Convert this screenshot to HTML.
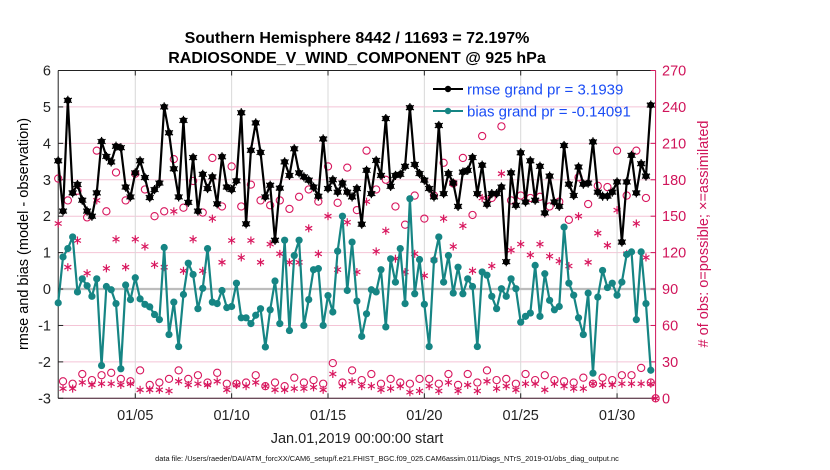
<!DOCTYPE html>
<html><head><meta charset="utf-8">
<style>
html,body{margin:0;padding:0;background:#fff;}
svg{display:block;font-family:"Liberation Sans",Arial,sans-serif;}
</style></head>
<body>
<svg id="chart" width="830" height="470" viewBox="0 0 830 470" xmlns="http://www.w3.org/2000/svg">
  <rect x="0" y="0" width="830" height="470" fill="#fff"/>
  <g id="grid"></g>
  <g id="axes"></g>
  <g id="marks"></g>
  <text x="357" y="43" text-anchor="middle" font-weight="bold" font-size="16">Southern Hemisphere 8442 / 11693 = 72.197%</text>
  <text x="357" y="63" text-anchor="middle" font-weight="bold" font-size="16">RADIOSONDE_V_WIND_COMPONENT @ 925 hPa</text>
  <text transform="translate(28,234) rotate(-90)" text-anchor="middle" font-size="14.5">rmse and bias (model - observation)</text>
  <text transform="translate(708,234) rotate(-90)" text-anchor="middle" font-size="14.5" fill="#d0145a"># of obs: o=possible; ×=assimilated</text>
  <text x="357" y="443" text-anchor="middle" font-size="14.5" fill="#222">Jan.01,2019 00:00:00 start</text>
  <text x="387" y="461" text-anchor="middle" font-size="7.4" fill="#111">data file: /Users/raeder/DAI/ATM_forcXX/CAM6_setup/f.e21.FHIST_BGC.f09_025.CAM6assim.011/Diags_NTrS_2019-01/obs_diag_output.nc</text>
  <g id="legend">
    <line x1="433" y1="89" x2="463" y2="89" stroke="#000" stroke-width="2"/>
    <circle cx="448" cy="89" r="3.2" fill="#000"/>
    <text x="467" y="94.5" font-size="15" fill="#1a4cf5">rmse grand pr = 3.1939</text>
    <line x1="433" y1="111" x2="463" y2="111" stroke="#168584" stroke-width="2"/>
    <circle cx="448" cy="111" r="3.2" fill="#168584"/>
    <text x="467" y="116.5" font-size="15" fill="#1a4cf5">bias grand pr = -0.14091</text>
  </g>
</svg>
<script>
const rmseValues = [3.52,2.14,5.18,2.64,2.87,2.44,2.14,2.0,2.64,4.05,3.64,3.49,3.92,3.88,2.80,2.53,3.19,3.52,3.06,2.51,2.73,2.91,5.0,4.29,3.30,2.53,4.63,2.38,3.61,2.14,3.15,
2.76,3.08,2.34,3.63,2.80,2.73,2.97,4.84,1.79,3.81,4.56,3.75,2.53,2.85,1.34,2.77,3.49,3.12,3.85,3.19,3.08,2.99,2.80,2.55,4.12,2.76,3.00,2.66,2.91,2.66,2.53,
2.76,1.78,3.26,2.62,3.53,3.12,4.68,2.82,3.12,3.15,3.37,4.98,3.42,3.17,2.99,2.76,2.53,4.49,2.62,3.17,2.91,2.27,3.21,3.26,3.61,2.62,3.40,2.33,2.62,2.62,2.80,
0.75,3.19,2.30,3.74,2.39,3.52,2.44,3.37,2.09,3.10,2.39,2.27,3.94,2.88,2.57,3.35,2.88,2.91,4.04,2.66,2.55,2.55,2.66,2.94,1.29,2.94,3.67,2.64,3.44,3.10,5.05,null];
const biasValues = [-0.38,0.88,1.11,1.43,-0.08,0.28,0.09,-0.2,0.28,-2.10,0.07,-0.02,-0.40,-2.19,0.11,-0.29,0.31,-0.27,-0.42,-0.49,-0.70,-0.84,1.14,-1.25,-0.36,-1.58,-0.15,0.71,0.40,-0.54,0.02,
1.11,-0.36,-0.40,-0.04,-0.51,-0.48,0.16,-0.79,-0.79,-0.95,-0.72,-0.54,-1.59,-0.57,0.22,-0.95,1.34,-1.14,0.92,1.34,-1.0,-0.29,0.53,0.56,-1.0,-0.18,-0.63,1.04,2.0,-0.04,1.29,
-0.33,-1.30,-0.68,-0.02,-0.08,0.53,-1.04,0.83,0.19,1.11,-0.40,2.48,-0.13,0.81,-0.42,-1.58,0.79,1.43,0.19,0.92,-0.11,0.60,-0.13,0.28,0.07,-1.58,0.47,0.38,-0.20,-0.54,0.01,
-0.2,0.28,0.01,-0.91,-0.75,-0.66,0.65,-0.75,0.42,-0.31,-0.57,-0.48,1.70,0.16,-0.17,-0.79,-1.25,-0.11,-2.31,-0.22,0.51,0.04,0.16,-0.17,0.19,0.95,1.02,-0.84,1.02,-0.40,-2.23,null];
const possibleCounts = [181,14,163,12,171,20,149,15,204,19,154,21,186,16,163,14,185,23,172,11,150,13,154,16,197,23,157,16,179,19,153,
13,198,21,158,12,191,12,158,13,176,19,163,10,159,13,163,10,156,17,166,13,172,15,162,12,191,29,161,13,190,23,
155,15,204,20,172,12,180,16,158,13,143,12,167,16,148,16,167,12,194,20,177,11,198,20,151,13,216,23,165,15,224,
16,163,12,167,20,165,15,166,19,158,15,162,14,147,13,182,17,160,12,175,17,174,15,204,19,167,19,204,25,165,13,0];
const assimilatedCounts = [144,8,108,8,130,13,103,11,163,12,107,12,131,11,108,12,131,7,125,7,110,7,108,6,154,14,105,11,131,12,105,
11,148,14,112,7,130,11,116,10,130,13,112,10,127,7,119,7,112,8,112,8,140,9,119,7,150,20,106,10,145,14,
104,10,162,10,121,7,138,8,115,10,104,5,119,6,101,10,114,6,148,13,125,6,142,11,105,6,165,14,109,8,185,
10,122,7,127,12,118,12,127,7,117,12,113,10,109,8,150,8,112,12,136,11,126,11,155,12,119,12,144,12,116,12,0];
const xTickLabels = ["01/05","01/10","01/15","01/20","01/25","01/30"];
const xTickDays = [4,9,14,19,24,29];
const yLeftTicks = [-3,-2,-1,0,1,2,3,4,5,6];
const yRightTicks = [0,30,60,90,120,150,180,210,240,270];
const stepDays = 0.25;

const NS = "http://www.w3.org/2000/svg";
const PL = 58.2, PR = 655.6, PT = 70.5, PB = 398.3;
const xDay = d => PL + d * (PR - PL) / 31;
const yL = v => PB - (v + 3) * (PB - PT) / 9;
const yR = c => PB - c * (PB - PT) / 270;
function mk(tag, attrs, parent) {
  const el = document.createElementNS(NS, tag);
  for (const k in attrs) el.setAttribute(k, attrs[k]);
  parent.appendChild(el);
  return el;
}
const grid = document.getElementById('grid');
const axes = document.getElementById('axes');
const marks = document.getElementById('marks');

yRightTicks.forEach(c => {
  const l = mk('line', {x1: PL, x2: PR, y1: yR(c), y2: yR(c), stroke: '#f4c4d6', 'stroke-width': 1}, grid);
  
  
});
xTickDays.forEach(d => {
  const l = mk('line', {x1: xDay(d), x2: xDay(d), y1: PT, y2: PB, stroke: '#d8d8d8', 'stroke-width': 1}, grid);
  
  
});
const zl = mk('line', {x1: PL, x2: PR, y1: yL(0), y2: yL(0), stroke: '#bdbdbd', 'stroke-width': 2.2}, grid);



const frame = [
  ['top-axis-line', PL, PT, PR, PT, '#222'],
  ['left-axis-line', PL, PT, PL, PB, '#222'],
  ['bottom-axis-line', PL, PB, PR, PB, '#3a1a2a'],
  ['right-axis-line', PR, PT, PR, PB, '#d0145a']
];
frame.forEach(f => {
  const l = mk('line', {x1: f[1], y1: f[2], x2: f[3], y2: f[4], stroke: f[5], 'stroke-width': 1}, axes);
  
  
});
yLeftTicks.forEach(v => {
  const t = mk('text', {x: 51, y: yL(v) + 5, 'text-anchor': 'end', 'font-size': 14.5, fill: '#222'}, axes);
  t.textContent = String(v);
  
  
  mk('line', {x1: PL, x2: PL + 5, y1: yL(v), y2: yL(v), stroke: '#222'}, axes);
});
yRightTicks.forEach(c => {
  const t = mk('text', {x: 662, y: yR(c) + 5, 'font-size': 14.5, fill: '#d0145a'}, axes);
  t.textContent = String(c);
  
  
  mk('line', {x1: PR - 5, x2: PR, y1: yR(c), y2: yR(c), stroke: '#d0145a'}, axes);
});
xTickDays.forEach((d, i) => {
  const t = mk('text', {x: xDay(d), y: 420, 'text-anchor': 'middle', 'font-size': 14.5, fill: '#222'}, axes);
  t.textContent = xTickLabels[i];
  
  
  mk('line', {x1: xDay(d), x2: xDay(d), y1: PB - 5, y2: PB, stroke: '#222'}, axes);
  mk('line', {x1: xDay(d), x2: xDay(d), y1: PT, y2: PT + 5, stroke: '#222'}, axes);
});

function asterisk(cx, cy, r, color, parent) {
  const g = mk('g', {stroke: color, 'stroke-width': 1.2}, parent);
  for (let a = 0; a < 3; a++) {
    const ang = Math.PI / 2 + a * Math.PI / 3;
    mk('line', {x1: cx - r * Math.cos(ang), y1: cy - r * Math.sin(ang), x2: cx + r * Math.cos(ang), y2: cy + r * Math.sin(ang)}, g);
  }
  return g;
}
possibleCounts.forEach((c, i) => {
  const x = xDay(i * stepDays);
  const el = mk('circle', {cx: x, cy: yR(c), r: 3.6, fill: 'none', stroke: '#d8175e', 'stroke-width': 1.1}, marks);
  
  
});
assimilatedCounts.forEach((c, i) => {
  const x = xDay(i * stepDays);
  const el = asterisk(x, yR(c), 4, '#d8175e', marks);
  
  
});

function series(vals, color, name, markerFn) {
  let d = '';
  vals.forEach((v, i) => {
    if (v === null) return;
    d += (d ? 'L' : 'M') + xDay(i * stepDays).toFixed(2) + ',' + yL(v).toFixed(2);
  });
  const p = mk('path', {d: d, fill: 'none', stroke: color, 'stroke-width': 2.2, 'stroke-linejoin': 'round'}, marks);
  
  
  vals.forEach((v, i) => {
    if (v === null) return;
    const m = markerFn(xDay(i * stepDays), yL(v));
    
    
  });
}
series(biasValues, '#168584', 'bias', (x, y) => mk('circle', {cx: x, cy: y, r: 3.6, fill: '#168584'}, marks));
series(rmseValues, '#000', 'rmse', (x, y) => {
  const g = mk('g', {}, marks);
  mk('circle', {cx: x, cy: y, r: 3.4, fill: '#000'}, g);
  asterisk(x, y, 4.6, '#000', g);
  return g;
});
</script>
</body></html>
